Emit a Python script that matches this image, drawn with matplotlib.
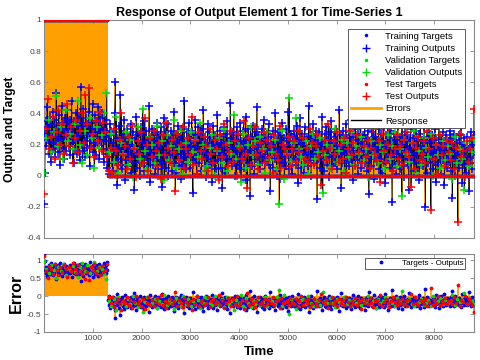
import numpy as np
import matplotlib
matplotlib.use("Agg")
import matplotlib.pyplot as plt
from matplotlib.lines import Line2D

plt.rcParams['font.family'] = ['Liberation Sans', 'DejaVu Sans']

# series length and the target step (targets are 1 before the step, 0 after)
T_START = 1
T_END = 8816
STEP_TIME = 1300
TARGET_BEFORE = 1.0
TARGET_AFTER = 0.0

# network outputs, in time order, one list per data split
train_out = [
    -0.18, 0.02, 0.27, 0.35, 0.19, 0.44, 0.23, 0.31, 0.14, 0.38, 0.26, 0.09, 0.33, 0.21,
    0.41, 0.17, 0.29, 0.36, 0.12, 0.25, 0.53, 0.20, 0.32, 0.15, 0.39, 0.24, 0.07, 0.30,
    0.22, 0.45, 0.18, 0.34, 0.27, 0.11, 0.37, 0.29, 0.16, 0.42, 0.24, 0.33, 0.19, 0.28,
    0.36, 0.13, 0.26, 0.48, 0.21, 0.31, 0.08, 0.35, 0.23, 0.17, 0.40, 0.27, 0.14, 0.32,
    0.25, 0.38, 0.10, 0.29, 0.57, 0.20, 0.34, 0.16, 0.43, 0.26, 0.12, 0.31, 0.37, 0.22,
    0.18, 0.33, 0.27, 0.41, 0.06, 0.24, 0.35, 0.19, 0.30, 0.46, 0.15, 0.28, 0.21, 0.39,
    0.13, 0.26, 0.34, 0.20, 0.44, 0.29, 0.11, 0.37, 0.23, 0.32, 0.17, 0.40, 0.25, 0.09,
    0.30, 0.22, 0.36, 0.14, 0.27, 0.05, 0.12, 0.26, 0.01, 0.33, 0.17, 0.29, 0.08, 0.21,
    0.03, 0.28, 0.15, 0.40, 0.60, 0.09, 0.24, -0.06, 0.19, 0.11, 0.32, 0.16, 0.52, 0.07,
    0.22, 0.04, 0.27, 0.13, 0.36, 0.18, -0.03, 0.23, 0.10, 0.30, 0.15, 0.06, 0.25, 0.19,
    0.12, 0.33, 0.02, 0.20, 0.28, 0.09, 0.16, -0.09, 0.24, 0.14, 0.38, 0.05, 0.22, 0.11,
    0.27, 0.17, 0.00, 0.31, 0.13, 0.21, 0.08, 0.26, 0.35, 0.03, 0.19, 0.12, 0.29, 0.15,
    0.06, 0.23, 0.18, 0.45, 0.10, -0.04, 0.25, 0.16, 0.30, 0.07, 0.20, 0.13, 0.28, 0.01,
    0.22, 0.11, 0.34, 0.17, 0.04, 0.26, 0.19, 0.09, 0.31, 0.14, -0.07, 0.23, 0.08, 0.37,
    0.15, 0.28, 0.05, 0.20, 0.12, 0.33, 0.00, 0.24, 0.17, 0.10, 0.29, 0.21, 0.03, 0.26,
    0.13, 0.41, 0.08, 0.18, 0.27, 0.02, 0.22, 0.14, 0.32, 0.06, 0.19, 0.25, 0.11, -0.02,
    0.30, 0.16, 0.07, 0.23, 0.48, 0.12, 0.20, 0.04, 0.28, 0.15, 0.09, 0.34, 0.18, 0.24,
    0.05, 0.21, 0.29, 0.13, -0.11, 0.17, 0.26, 0.10, 0.36, 0.19, 0.01, 0.23, 0.14, 0.31,
    0.08, 0.27, 0.16, 0.22, 0.03, 0.30, 0.12, 0.42, 0.18, 0.06, 0.25, 0.15, -0.01, 0.21,
    0.33, 0.11, 0.19, 0.28, 0.07, 0.14, 0.24, -0.04, 0.20, 0.32, 0.09, 0.17, 0.26, 0.04,
    0.16, 0.23, 0.39, 0.10, 0.21, 0.13, 0.29, 0.05, 0.18, 0.25, -0.08, 0.15, 0.31, 0.12,
    0.20, 0.02, 0.27, 0.14, 0.35, 0.08, 0.22, 0.17, 0.11, 0.47, 0.19, 0.06, 0.24, 0.13,
    0.28, 0.09, 0.17, 0.00, 0.23, 0.31, 0.15, 0.07, 0.26, 0.20, 0.04, 0.34, 0.12, 0.22,
    0.10, 0.18, 0.29, 0.05, 0.21, 0.14, 0.38, -0.03, 0.24, 0.16, 0.30, 0.08, 0.19, -0.13,
    0.25, 0.13, 0.06, 0.32, 0.17, 0.23, 0.01, 0.20, 0.28, 0.11, 0.44, 0.15, 0.07, 0.26,
    0.19, 0.04, 0.22, 0.14, 0.30, 0.09, 0.18, 0.36, 0.12, -0.01, 0.24, 0.16, 0.27, 0.10,
    0.21, 0.33, 0.07, 0.17, -0.10, 0.25, 0.13, 0.20, 0.05, 0.29, 0.18, 0.11, 0.40, 0.15,
    0.03, 0.23, 0.16, 0.28, 0.10, 0.21, -0.02, 0.26, 0.14, 0.34, 0.08, 0.19, 0.24, 0.12,
    0.17, 0.06, 0.30, 0.20, 0.13, 0.41, 0.04, 0.22, 0.15, 0.27, 0.09, 0.01, 0.25, 0.18,
    0.11, 0.29, 0.19, 0.07, 0.24, 0.16, 0.32, -0.05, 0.21, 0.12, 0.37, 0.14, 0.05, 0.23,
    0.27, 0.15, 0.02, 0.20, 0.31, 0.09, 0.18, 0.25, 0.13, 0.06, 0.45, 0.17, 0.22, 0.10,
    0.00, 0.26, 0.14, 0.33, 0.19, 0.08, 0.23, 0.12, 0.29, 0.16, -0.15, 0.21, 0.11, 0.28,
    0.18, 0.05, 0.24, 0.15, 0.38, 0.10, 0.20, 0.03, 0.27, 0.14, 0.22, 0.31, 0.07, 0.17,
    0.23, 0.12, -0.01, 0.28, 0.19, 0.35, 0.13, 0.21, 0.06, 0.25, 0.16, 0.09, 0.30, 0.20,
    0.04, 0.22, 0.17, 0.11, 0.42, 0.14, 0.26, -0.08, 0.19, 0.08, 0.29, 0.15, 0.23, 0.02,
    0.20, 0.33, 0.10, 0.24, 0.16, 0.06, 0.28, 0.13, 0.21, 0.36, 0.09, 0.18, -0.03, 0.25,
    0.14, 0.07, 0.30, 0.19, 0.12, 0.23, 0.01, 0.27, 0.17, 0.10, 0.32, 0.21, 0.05, 0.16,
    0.26, 0.13, 0.20, 0.40, 0.08, 0.15, 0.24, 0.03, 0.29, 0.18, -0.12, 0.22, 0.11, 0.19,
    0.06, 0.28, 0.15, 0.21, -0.02, 0.25, 0.12, 0.34, 0.17, 0.09, 0.23, 0.14, 0.30, 0.04,
    0.19, 0.11, 0.27, 0.02, 0.22, 0.16, 0.31, 0.08, 0.20, -0.05, 0.26, 0.13, 0.18, 0.38,
    0.10, 0.24, 0.05, 0.19, 0.29, 0.14, -0.17, 0.21, 0.12, 0.27, 0.07, 0.17, 0.23, 0.01,
    0.15, 0.32, 0.09, 0.18, 0.04, 0.25, 0.20, 0.13, 0.36, 0.06, 0.22, -0.01, 0.16, 0.28,
    0.11, 0.21, 0.26, 0.07, 0.17, -0.09, 0.23, 0.14, 0.30, 0.09, 0.19, 0.12, 0.24, 0.03,
    0.20, 0.08, 0.15, 0.29, 0.13, 0.22, 0.05, 0.27, -0.03, 0.18, 0.33, 0.10, 0.16, 0.23,
    0.06, 0.19, 0.31, 0.12, -0.20, 0.21, 0.02, 0.25, 0.15, 0.08, 0.28, 0.17, 0.11, 0.22,
    0.14, 0.26, 0.04, 0.20, 0.09, 0.30, 0.16, -0.04, 0.23, 0.13, 0.07, 0.19, 0.34, 0.11,
    0.18, 0.01, 0.24, 0.15, 0.28, 0.10, 0.21, -0.06, 0.17, 0.12, 0.26, 0.05, 0.20, 0.14,
    0.09, 0.22, 0.29, 0.03, 0.16, 0.24, -0.14, 0.19, 0.11, 0.27, 0.00, 0.15, 0.23, 0.08,
    0.21, 0.13, 0.05, 0.26, 0.18, 0.10, 0.31, 0.14, -0.05, 0.20, 0.07, 0.24, 0.16, 0.12,
    0.02, 0.19, 0.25, 0.11, 0.17, -0.10, 0.22, 0.08, 0.28, 0.15, 0.04, 0.20, 0.13, 0.26,
]
val_out = [
    0.02, 0.24, 0.36, 0.15, 0.28, 0.51, 0.19, 0.31, 0.11, 0.42, 0.22, 0.27,
    0.17, 0.33, 0.48, 0.20, 0.08, 0.29, 0.13, 0.37, 0.24, 0.05, 0.31, 0.18,
    0.26, 0.40, 0.53, 0.15, 0.27, 0.09, 0.38, 0.02, 0.21, 0.14, 0.28, 0.07,
    0.23, -0.01, 0.18, 0.31, 0.11, 0.43, 0.16, 0.04, 0.25, 0.20, 0.08, 0.32,
    0.13, 0.22, -0.03, 0.26, 0.10, 0.19, 0.36, 0.05, 0.17, 0.29, 0.01, 0.21,
    0.09, 0.28, 0.15, 0.23, 0.12, 0.34, 0.20, 0.03, 0.06, 0.18, 0.26, 0.00,
    0.16, 0.24, 0.08, 0.30, 0.03, 0.21, 0.14, 0.39, 0.11, 0.19, -0.04, 0.27,
    0.05, 0.20, 0.31, 0.13, 0.22, 0.07, 0.25, 0.17, 0.02, 0.28, 0.10, 0.15,
    0.23, 0.04, -0.18, 0.29, -0.02, 0.14, 0.50, 0.09, 0.21, 0.37, 0.17, 0.12,
    0.07, 0.22, 0.01, 0.19, 0.27, 0.11, 0.15, 0.24, -0.11, 0.13, 0.20, 0.05,
    0.18, 0.30, 0.09, 0.16, 0.23, 0.03, 0.21, 0.12, 0.28, 0.07, 0.19, 0.14,
    0.25, 0.10, 0.17, -0.01, 0.22, 0.13, 0.32, 0.08, 0.20, 0.15, 0.04, 0.26,
    0.11, 0.19, 0.28, 0.06, 0.17, -0.13, 0.23, 0.14, 0.09, 0.21, 0.29, 0.02,
    0.16, 0.07, 0.24, 0.18, 0.12, 0.27, 0.00, 0.20, 0.13, 0.05, 0.22, 0.10,
    0.19, 0.14, -0.02, 0.25, 0.08, 0.17, 0.11, -0.09, 0.21, 0.06, 0.15, 0.23,
]
test_out = [
    -0.12, 0.30, 0.49, 0.17, 0.25, 0.38, 0.11, 0.28, 0.42, 0.20, 0.33, 0.14, 0.26, 0.46, 0.19,
    0.31, 0.08, 0.24, 0.36, 0.15, 0.29, 0.40, 0.21, 0.52, 0.33, 0.56, 0.18, 0.27, 0.12, 0.35,
    0.22, 0.41, 0.16, 0.34, 0.28, 0.12, 0.03, 0.18, 0.02, 0.30, 0.16, 0.07, 0.23, 0.40, 0.13,
    0.19, 0.04, 0.25, 0.11, 0.32, 0.17, -0.01, 0.22, 0.14, 0.28, 0.08, 0.37, 0.20, 0.03, 0.24,
    0.12, 0.29, 0.16, 0.06, 0.21, -0.02, 0.26, 0.13, 0.34, 0.18, 0.09, 0.23, 0.15, -0.10, 0.27,
    0.10, 0.20, 0.31, 0.05, 0.17, 0.24, 0.13, 0.38, 0.07, 0.22, 0.01, 0.28, 0.16, 0.11, 0.25,
    0.19, 0.03, 0.30, 0.14, 0.08, 0.23, 0.17, -0.03, 0.26, 0.12, 0.33, 0.20, 0.06, 0.15, 0.29,
    0.09, 0.22, 0.00, 0.27, 0.18, 0.11, 0.35, 0.14, -0.08, 0.24, 0.07, 0.19, 0.31, 0.13, 0.04,
    0.21, 0.16, 0.28, 0.08, 0.23, 0.12, 0.19, 0.02, 0.26, 0.14, 0.10, 0.32, 0.05, 0.20, 0.17,
    0.13, 0.25, 0.06, 0.17, 0.22, 0.09, 0.29, 0.15, -0.01, 0.24, 0.11, 0.18, 0.08, 0.30, 0.21,
    0.07, 0.19, 0.27, 0.12, -0.06, 0.16, 0.23, 0.10, 0.33, 0.18, 0.04, 0.22, 0.14, 0.28, 0.09,
    0.20, 0.11, 0.24, 0.02, 0.17, 0.29, 0.13, 0.21, 0.06, 0.26, 0.15, 0.36, 0.08, 0.19, 0.12,
    0.23, 0.05, 0.18, 0.30, 0.14, 0.10, 0.22, -0.04, 0.27, 0.16, 0.09, 0.20, 0.31, 0.13, 0.03,
    0.17, 0.26, 0.11, 0.19, 0.07, 0.23, 0.15, 0.28, 0.12, -0.07, 0.21, 0.04, 0.18, 0.25, 0.10,
    0.14, 0.22, 0.08, 0.29, 0.17, -0.22, 0.24, 0.11, 0.20, 0.01, 0.26, 0.13, 0.19, 0.06, 0.23,
    0.15, 0.10, 0.21, 0.04, 0.18, -0.30, 0.27, 0.12, 0.16, -0.01, 0.22, 0.09, 0.17, 0.24, 0.43,
]

xticks = [1000, 2000, 3000, 4000, 5000, 6000, 7000, 8000]
top_yticks = [-0.4, -0.2, 0, 0.2, 0.4, 0.6, 0.8, 1]
err_yticks = [-1, -0.5, 0, 0.5, 1]

ORANGE = '#ff9f00'
BLUE = '#0000ff'
GREEN = '#00dd00'
RED = '#ff0000'
AXC = '#8a8a8a'


def split(out):
    out = np.array(out)
    t = np.linspace(T_START, T_END, len(out))
    tgt = np.where(t < STEP_TIME, TARGET_BEFORE, TARGET_AFTER)
    return t, out, tgt


sets = [split(train_out), split(val_out), split(test_out)]
colors = [BLUE, GREEN, RED]
names = ['Training', 'Validation', 'Test']

fig = plt.figure(figsize=(4.8, 3.6), dpi=100)
ax = fig.add_axes([0.0917, 0.3389, 0.8958, 0.6056])
ax2 = fig.add_axes([0.0917, 0.0778, 0.8958, 0.2167])

# top: errors, response line, targets and outputs
for t, out, tgt in sets:
    ax.vlines(t, out, tgt, color=ORANGE, lw=1.3, zorder=1)
t_all = np.concatenate([s[0] for s in sets])
y_all = np.concatenate([s[1] for s in sets])
order = np.argsort(t_all)
ax.plot(t_all[order], y_all[order], color='k', lw=0.5, zorder=2)
for (t, out, tgt), c in zip(sets, colors):
    ax.plot(t, tgt, '.', color=c, ms=3, zorder=3)
    ax.plot(t, out, '+', color=c, ms=6, mew=1.1, zorder=3)

ax.set_xlim(T_START, T_END)
ax.set_ylim(-0.4, 1)
ax.set_xticks(xticks)
ax.set_xticklabels([])
ax.set_yticks(top_yticks)
ax.set_yticklabels(['-0.4', '-0.2', '0', '0.2', '0.4', '0.6', '0.8', '1'])
ax.set_title('Response of Output Element 1 for Time-Series 1', fontsize=9,
             fontweight='bold', pad=3)
ax.set_ylabel('Output and Target', fontsize=8.8, fontweight='bold')
ax.yaxis.set_label_coords(-0.065, 0.5)

handles = []
for c, n in zip(colors, names):
    handles.append(Line2D([], [], ls='none', marker='.', ms=3, color=c, label=n + ' Targets'))
    handles.append(Line2D([], [], ls='none', marker='+', ms=6, mew=1, color=c, label=n + ' Outputs'))
handles.append(Line2D([], [], color=ORANGE, lw=2, label='Errors'))
handles.append(Line2D([], [], color='k', lw=1, label='Response'))
leg = ax.legend(handles=handles, loc='upper right', bbox_to_anchor=(0.979, 0.959),
                fontsize=6.8, handlelength=3.2, handletextpad=0.4, labelspacing=0.33,
                borderpad=0.3, fancybox=False, framealpha=1, edgecolor='#404040',
                borderaxespad=0)
leg.get_frame().set_linewidth(0.6)
leg.set_zorder(10)

# bottom: errors
for t, out, tgt in sets:
    ax2.vlines(t, 0, tgt - out, color=ORANGE, lw=1.3, zorder=1)
for i, ((t, out, tgt), c) in enumerate(zip(sets, colors)):
    ax2.plot(t, tgt - out, '.', color=c, ms=3.5, zorder=3,
             label='Targets - Outputs' if i == 0 else None)
ax2.set_xlim(T_START, T_END)
ax2.set_ylim(-1, 1.17)
ax2.set_xticks(xticks)
ax2.set_yticks(err_yticks)
ax2.set_yticklabels(['-1', '-0.5', '0', '0.5', '1'])
ax2.set_xlabel('Time', fontsize=9.5, fontweight='bold', labelpad=3)
ax2.set_ylabel('Error', fontsize=11.5, fontweight='bold')
ax2.yaxis.set_label_coords(-0.046, 0.5)
leg2 = ax2.legend(loc='upper right', bbox_to_anchor=(0.979, 0.949), fontsize=5.8,
                  handlelength=3.5, handletextpad=0.8, borderpad=0.2, fancybox=False,
                  framealpha=1, edgecolor='#404040', borderaxespad=0)
leg2.get_frame().set_linewidth(0.6)

for a in (ax, ax2):
    a.tick_params(direction='in', top=True, right=True, length=3, width=0.6,
                  colors=AXC, labelcolor='#444444', labelsize=6, pad=2)
    for s in a.spines.values():
        s.set_color(AXC)
        s.set_linewidth(0.8)

fig.savefig('out.png', dpi=100)
